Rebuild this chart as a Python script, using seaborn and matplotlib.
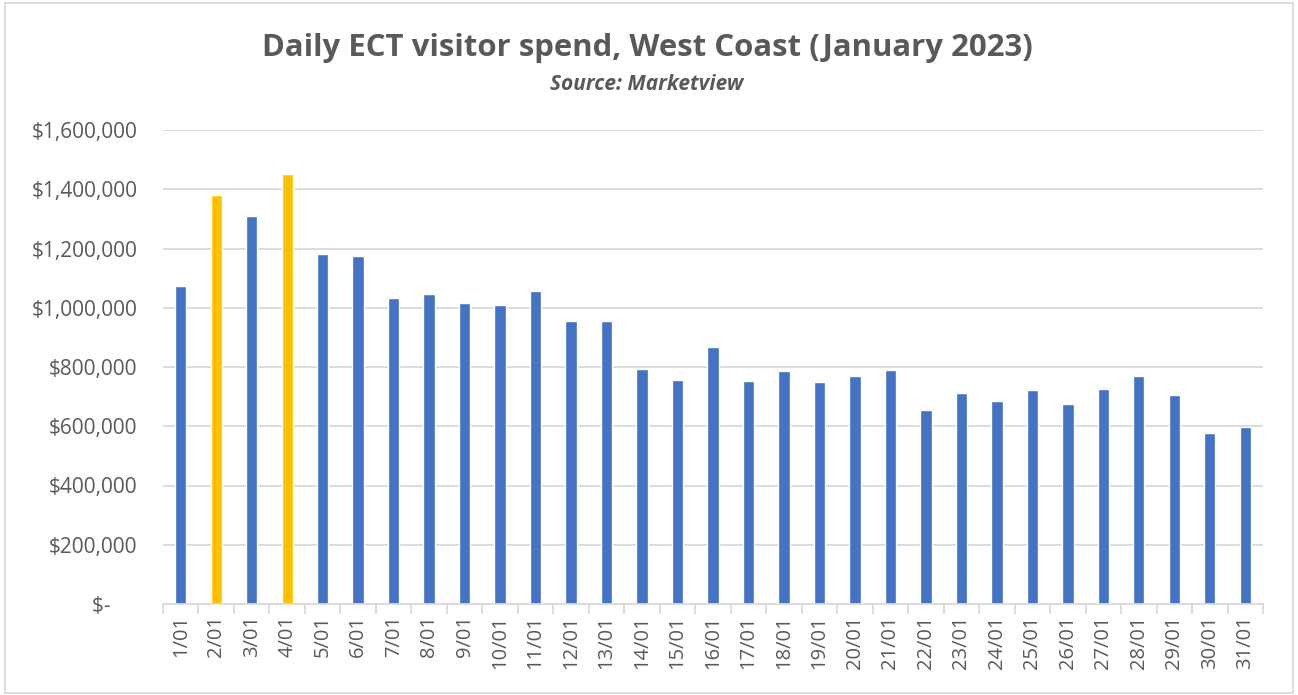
import matplotlib.pyplot as plt
import matplotlib.ticker as mticker
from matplotlib.patches import Rectangle
import numpy as np
import seaborn as sns

# Data
days = [f"{d}/01" for d in range(1, 32)]
spend = [1074000, 1379000, 1309000, 1453000, 1182000, 1173000, 1032000, 1047000,
         1016000, 1010000, 1056000, 954000, 955000, 794000, 756000, 866000,
         753000, 787000, 749000, 768000, 791000, 656000, 712000, 686000,
         722000, 674000, 727000, 768000, 706000, 577000, 597000]
highlight_days = ["2/01", "4/01"]

blue = "#4472C4"
gold = "#FFC000"
grey_text = "#595959"
colors = {d: (gold if d in highlight_days else blue) for d in days}

sns.set_theme(style="white")
plt.rcParams["font.family"] = ["Open Sans", "DejaVu Sans"]

fig = plt.figure(figsize=(12.98, 6.95), dpi=100)
ax = fig.add_axes([163 / 1298, 1 - 604 / 695, (1263 - 163) / 1298, (604 - 130) / 695])

sns.barplot(x=days, y=spend, hue=days, palette=colors, legend=False,
            width=0.32, ax=ax, saturation=1)

ax.set_ylim(0, 1600000)
ax.set_xlim(-0.5, len(days) - 0.5)
ax.yaxis.set_major_locator(mticker.MultipleLocator(200000))
ax.yaxis.set_major_formatter(
    mticker.FuncFormatter(lambda v, p: "$-" + " " * 5 if v == 0 else f"${v:,.0f}"))
ax.grid(axis="y", color="#D9D9D9", linewidth=1.3)
ax.set_axisbelow(True)

for s in ["top", "right", "left"]:
    ax.spines[s].set_visible(False)
ax.spines["bottom"].set_color("#D9D9D9")
ax.spines["bottom"].set_linewidth(1.3)

# Excel-like ticks between categories
ax.set_xticks(np.arange(-0.5, len(days), 1), minor=True)
ax.tick_params(axis="x", which="minor", length=7, color="#D9D9D9", width=1.3, bottom=True)
ax.tick_params(axis="x", which="major", length=0, pad=8, labelrotation=90,
               labelsize=14.5, labelcolor=grey_text)
ax.tick_params(axis="y", length=0, pad=18.5, labelsize=15, labelcolor=grey_text)
for lbl in ax.get_xticklabels():
    lbl.set_verticalalignment("top")

fig.text(0.4985, 1 - 48 / 695, "Daily ECT visitor spend, West Coast (January 2023)",
         ha="center", va="center", fontsize=22.4, fontweight="bold", color=grey_text)
fig.text(0.4985, 1 - 84 / 695, "Source: Marketview", ha="center", va="center",
         fontsize=15, fontweight="bold", fontstyle="italic", color=grey_text)

fig.patches.append(Rectangle((5 / 1298, 2 / 695), 1288 / 1298, 690 / 695,
                             transform=fig.transFigure, fill=False,
                             edgecolor="#D9D9D9", linewidth=1.3))

fig.savefig("out.png", dpi=100)
